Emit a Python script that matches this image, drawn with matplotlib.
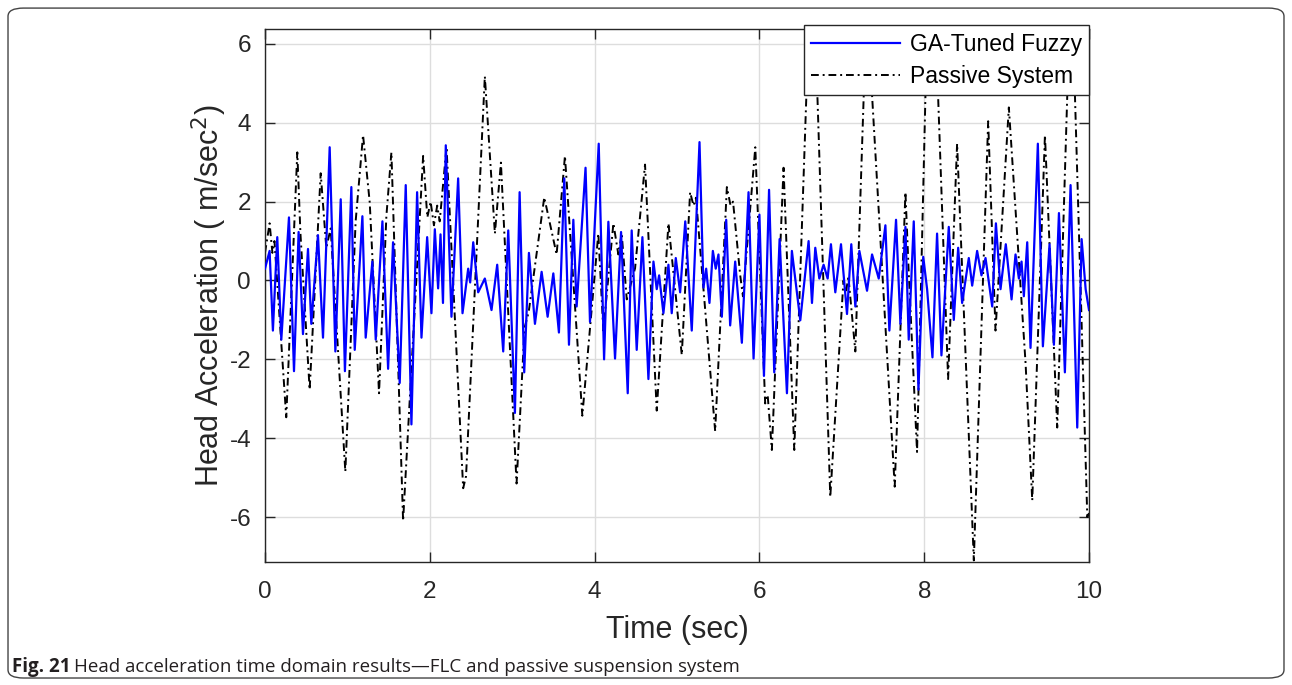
"""Head acceleration time domain results - FLC vs passive suspension"""

import matplotlib
matplotlib.use('Agg')
import matplotlib.pyplot as plt
from matplotlib.patches import FancyBboxPatch

# GA-tuned fuzzy controller: extrema (time s, accel m/s^2)
fuzzy_t = [0.0, 0.056, 0.096, 0.149, 0.198, 0.291, 0.352, 0.408, 0.461, 0.522,
           0.562, 0.643, 0.704, 0.785, 0.854, 0.919, 0.97, 1.048, 1.089, 1.182,
           1.222, 1.303, 1.344, 1.425, 1.494, 1.554, 1.635, 1.708, 1.777, 1.846,
           1.899, 1.968, 2.02, 2.061, 2.101, 2.13, 2.16, 2.194, 2.263, 2.344,
           2.397, 2.466, 2.49, 2.527, 2.587, 2.668, 2.749, 2.818, 2.891, 2.952,
           3.033, 3.09, 3.146, 3.203, 3.276, 3.357, 3.43, 3.499, 3.567, 3.632,
           3.689, 3.742, 3.782, 3.89, 3.944, 4.05, 4.115, 4.167, 4.248, 4.321,
           4.402, 4.45, 4.511, 4.58, 4.653, 4.714, 4.754, 4.783, 4.835, 4.896,
           4.936, 4.985, 5.038, 5.1, 5.179, 5.273, 5.321, 5.354, 5.394, 5.435,
           5.47, 5.503, 5.544, 5.597, 5.645, 5.706, 5.787, 5.868, 5.929, 6.0,
           6.055, 6.117, 6.18, 6.245, 6.334, 6.394, 6.496, 6.597, 6.638, 6.678,
           6.727, 6.779, 6.828, 6.868, 6.921, 6.99, 7.063, 7.115, 7.164, 7.213,
           7.306, 7.367, 7.448, 7.529, 7.577, 7.658, 7.711, 7.772, 7.812, 7.873,
           7.93, 7.988, 8.035, 8.1, 8.156, 8.209, 8.298, 8.359, 8.412, 8.46,
           8.541, 8.582, 8.642, 8.695, 8.744, 8.825, 8.87, 8.926, 8.99, 9.06,
           9.108, 9.149, 9.181, 9.209, 9.25, 9.29, 9.379, 9.44, 9.521, 9.574,
           9.635, 9.707, 9.776, 9.857, 9.91, 9.959, 10.0]
fuzzy_a = [0.3, 0.75, -1.27, 1.1, -1.5, 1.6, -2.3, 1.23, -1.36, 0.8,
           -1.1, 1.15, -1.45, 3.38, -1.8, 2.06, -2.3, 2.37, -1.76, 1.63,
           -1.45, 0.48, -1.5, 1.5, -2.24, 0.97, -2.6, 2.42, -3.65, 2.24,
           -1.45, 1.1, -0.83, 1.3, -0.2, 1.17, -0.57, 3.43, -0.92, 2.59,
           -0.83, 0.3, -0.05, 0.97, -0.3, 0.05, -0.75, 0.4, -1.8, 1.27,
           -3.36, 2.24, -2.33, 0.7, -1.1, 0.22, -0.92, 0.18, -1.32, 2.59,
           -1.63, 1.54, -0.66, 2.86, -1.05, 3.47, -2.0, 1.49, -1.98, 1.23,
           -2.86, 1.27, -1.76, 1.1, -2.5, 0.48, -0.22, 0.13, -0.83, 0.4,
           -0.83, 0.57, -0.3, 1.5, -1.27, 3.51, -0.18, 0.3, -0.57, 0.75,
           0.3, 0.66, -0.92, 1.54, -1.14, 0.48, -1.58, 2.24, -1.98, 1.67,
           -2.42, 2.3, -2.33, 1.05, -2.86, 0.75, -1.01, 1.0, -0.57, 0.83,
           0.05, 0.4, 0.05, 0.92, -0.3, 0.92, -0.85, 0.92, -0.66, 0.75,
           -0.26, 0.66, 0.05, 1.4, -1.27, 1.54, -1.1, 1.36, -1.5, 1.5,
           -2.77, 0.6, -0.22, -1.95, 1.19, -1.9, 1.36, -1.0, 0.83, -0.57,
           0.57, -0.13, 0.75, 0.13, 0.57, -0.66, 1.45, -0.22, 0.92, -0.48,
           0.66, 0.05, 0.48, -0.4, 0.97, -1.71, 3.47, -1.67, 0.92, -1.63,
           1.71, -2.33, 2.42, -3.73, 1.05, -0.22, -0.75]

# passive suspension
passive_t = [0.0, 0.056, 0.09, 0.115, 0.258, 0.392, 0.43, 0.542, 0.676, 0.744,
             0.797, 0.975, 1.1, 1.19, 1.271, 1.384, 1.473, 1.534, 1.676, 1.919,
             1.97, 2.01, 2.05, 2.09, 2.12, 2.203, 2.405, 2.44, 2.668, 2.79,
             2.863, 3.053, 3.15, 3.2, 3.389, 3.539, 3.64, 3.851, 4.045, 4.106,
             4.228, 4.288, 4.329, 4.39, 4.491, 4.612, 4.754, 4.896, 5.058, 5.159,
             5.2, 5.23, 5.463, 5.605, 5.65, 5.68, 5.767, 5.8, 5.95, 6.07,
             6.1, 6.151, 6.293, 6.423, 6.57, 6.66, 6.705, 6.86, 7.02, 7.05,
             7.08, 7.164, 7.266, 7.31, 7.367, 7.642, 7.772, 7.81, 7.913, 8.015,
             8.09, 8.168, 8.29, 8.399, 8.602, 8.776, 8.865, 9.027, 9.23, 9.311,
             9.465, 9.614, 9.736, 9.78, 9.829, 9.979, 10.0]
passive_a = [0.7, 1.45, 0.7, 1.0, -3.47, 3.25, 1.2, -2.77, 2.72, 0.83,
             1.32, -4.85, 1.5, 3.69, 1.98, -2.86, 1.63, 3.25, -6.1, 3.16,
             1.6, 2.0, 1.4, 1.9, 1.5, 3.38, -5.27, -4.96, 5.18, 1.19,
             2.99, -5.15, -1.2, -0.8, 2.11, 0.66, 3.16, -3.43, 1.19, -1.27,
             1.45, 0.66, 1.19, -0.48, 0.31, 2.94, -3.3, 1.45, -1.89, 2.24,
             1.9, 2.1, -3.82, 2.37, 1.9, 2.0, 0.13, -0.4, 3.38, -3.12,
             -2.9, -4.3, 2.86, -4.3, 4.7, 6.3, 4.6, -5.49, 0.0, -0.3,
             0.1, -1.8, 4.7, 6.0, 4.7, -5.23, 2.24, 0.3, -4.35, 4.7,
             6.38, 4.7, -2.5, 3.47, -7.1, 4.04, -1.27, 4.39, -2.1, -5.58,
             3.69, -3.73, 4.7, 6.2, 4.7, -6.0, -5.9]

x_ticks = [0, 2, 4, 6, 8, 10]
y_ticks = [-6, -4, -2, 0, 2, 4, 6]

plt.rcParams['font.family'] = ['Liberation Sans', 'DejaVu Sans']
plt.rcParams['axes.unicode_minus'] = False

fig = plt.figure(figsize=(12.92, 6.85), dpi=100)
ax = fig.add_axes([0.2051, 0.1796, 0.6378, 0.7781])

ax.plot(fuzzy_t, fuzzy_a, color='#0000FF', linewidth=1.6, label='GA-Tuned Fuzzy', zorder=3)
ax.plot(passive_t, passive_a, color='black', linewidth=1.4, linestyle=(0, (4, 2, 1, 2)),
        label='Passive System', zorder=2)

ax.set_xlim(0, 10)
ax.set_ylim(-7.14, 6.38)
ax.set_xticks(x_ticks)
ax.set_yticks(y_ticks)
ax.grid(True, color='#DDDDDD', linewidth=1.0)
ax.set_axisbelow(True)
ax.tick_params(direction='in', length=7, width=1, top=True, right=True,
               labelsize=17.5, colors='#262626', pad=10)
ax.tick_params(axis='x', pad=14)
for s in ax.spines.values():
    s.set_color('#262626')
    s.set_linewidth(1.0)

ax.set_xlabel('Time (sec)', fontsize=22, color='#262626', labelpad=8)
ax.set_ylabel('Head Acceleration ( m/sec$^{2}$)', fontsize=22, color='#262626', labelpad=0)

leg = ax.legend(loc='upper right', bbox_to_anchor=(1.0, 1.007), borderaxespad=0,
                fontsize=16.5, handlelength=3.9, handletextpad=0.4, labelspacing=0.4,
                borderpad=0.32, fancybox=False, framealpha=1, edgecolor='#262626')
leg.get_frame().set_linewidth(1.0)

# caption
cap1 = fig.text(0.0093, 0.027, 'Fig. 21', fontsize=13.5, fontweight='bold',
                family=['Open Sans', 'DejaVu Sans'], va='center', ha='left', color='#231F20')
r = fig.canvas.get_renderer()
bb = cap1.get_window_extent(renderer=r)
fig.text(bb.x1 / fig.bbox.width + 0.003, 0.027,
         'Head acceleration time domain results\u2014FLC and passive suspension system',
         fontsize=13.5, family=['Open Sans', 'DejaVu Sans'], va='center', ha='left', color='#231F20')

# rounded border around the figure
border = FancyBboxPatch((0.0062, 0.0102), 0.9876, 0.978, boxstyle='round,pad=0,rounding_size=0.012',
                        transform=fig.transFigure, fill=False, edgecolor='#444444', linewidth=1.0)
fig.patches.append(border)

fig.savefig('out.png', dpi=100)
